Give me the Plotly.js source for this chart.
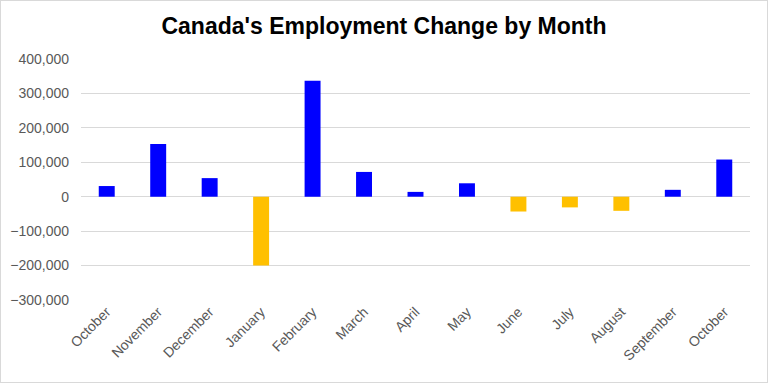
<!DOCTYPE html>
<html>
<head>
<meta charset="utf-8">
<script src="https://cdn.plot.ly/plotly-3.0.1.min.js"></script>
<style>
html,body{margin:0;padding:0;background:#fff;}
#wrap{position:absolute;left:0;top:0;width:766px;height:381px;border:1px solid #d9d9d9;}
#chart{width:766px;height:381px;}
</style>
</head>
<body>
<div id="wrap"><div id="chart"></div></div>
<script>
const months = ["October","November","December","January","February","March","April","May","June","July","August","September","October"];
const employmentChange = [31000, 153000, 54000, -200000, 337000, 72000, 14000, 39000, -43000, -31000, -41000, 20000, 108000];
const yTickVals = [-300000,-200000,-100000,0,100000,200000,300000,400000];

const positions = months.map((m, i) => i);
const colors = employmentChange.map(v => v >= 0 ? "#0000FF" : "#FFC000");

const trace = {
  type: "bar",
  x: positions,
  y: employmentChange,
  marker: {color: colors},
  hoverinfo: "skip"
};

const layout = {
  width: 766, height: 381,
  margin: {l: 80, r: 17, t: 58, b: 82},
  paper_bgcolor: "#fff", plot_bgcolor: "#fff",
  bargap: 0.69,
  showlegend: false,
  title: {
    text: "<b>Canada's Employment Change by Month</b>",
    font: {family: "Liberation Sans, Arial", size: 23, color: "#000"},
    x: 0.5, xanchor: "center", y: 0.935, yanchor: "middle"
  },
  xaxis: {
    tickmode: "array", tickvals: positions, ticktext: months,
    tickangle: -45,
    range: [-0.5, 12.5],
    showgrid: false, zeroline: false, showline: false,
    ticks: "",
    tickfont: {family: "Liberation Sans, Arial", size: 14, color: "#595959"}
  },
  yaxis: {
    range: [-300000, 400000],
    tickmode: "array", tickvals: yTickVals,
    tickformat: ",d",
    showgrid: true, gridcolor: "#d9d9d9", gridwidth: 1,
    zeroline: true, zerolinecolor: "#d9d9d9", zerolinewidth: 1,
    showline: false, ticks: "",
    ticklabelstandoff: 11,
    tickfont: {family: "Liberation Sans, Arial", size: 14, color: "#595959"}
  }
};

Plotly.newPlot("chart", [trace], layout, {displayModeBar: false, staticPlot: true});
</script>
</body>
</html>
